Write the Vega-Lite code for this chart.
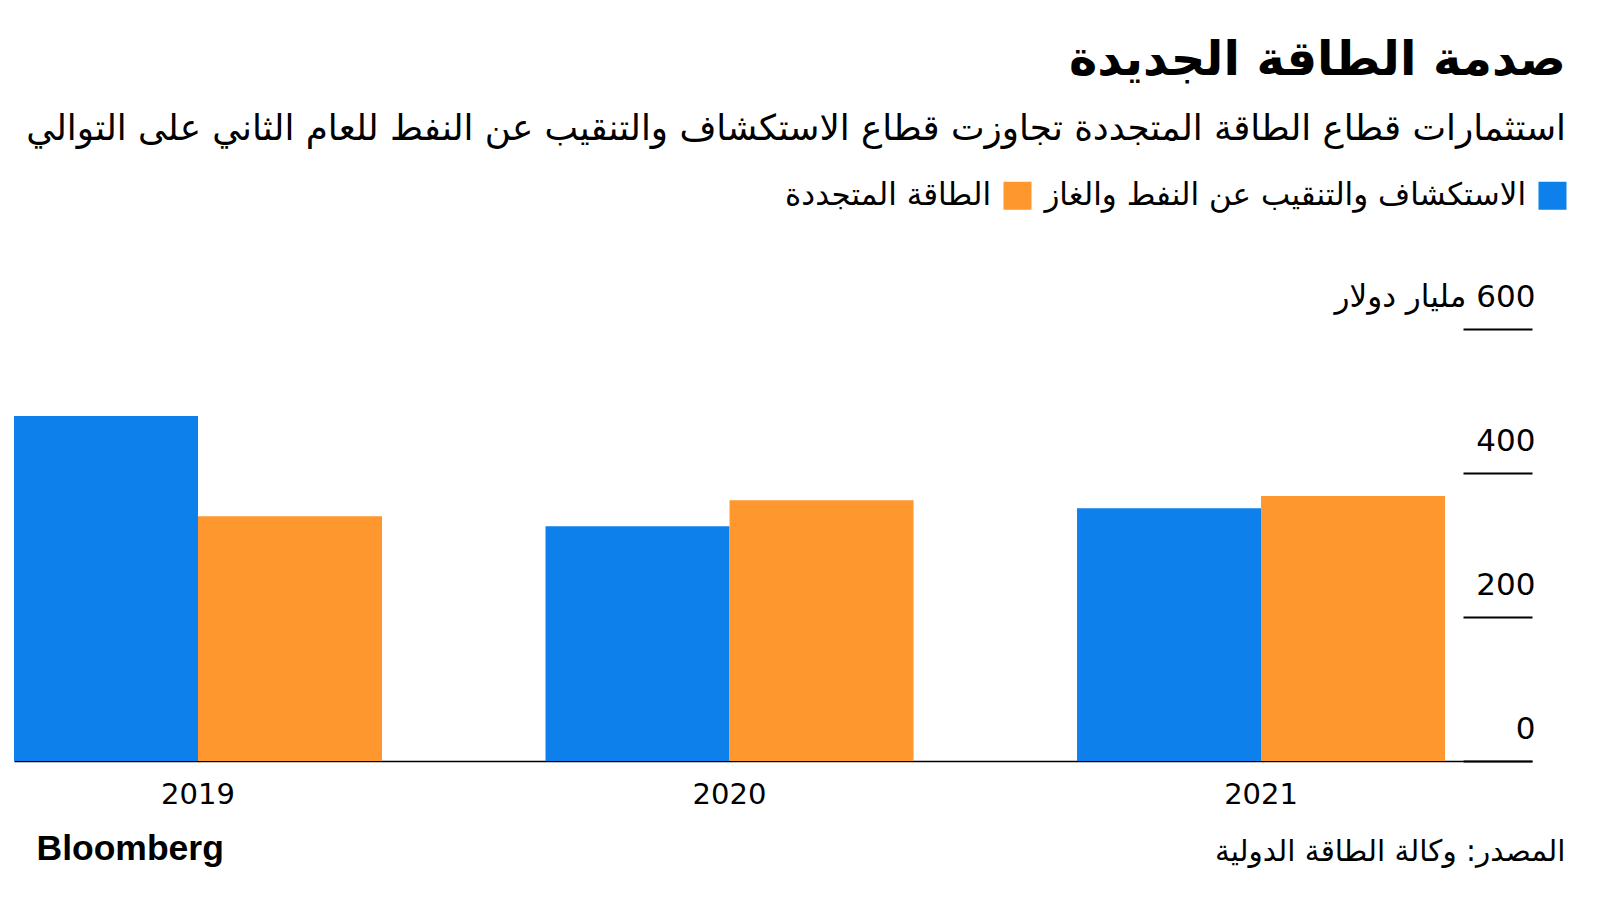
{
  "$schema": "https://vega.github.io/schema/vega-lite/v6.json",
  "width": 1518,
  "height": 432,
  "autosize": {"type": "none"},
  "padding": {"left": 14, "top": 329, "right": 68, "bottom": 139},
  "background": "#ffffff",
  "title": {
    "text": "صدمة الطاقة الجديدة",
    "subtitle": "استثمارات قطاع الطاقة المتجددة تجاوزت قطاع الاستكشاف والتنقيب عن النفط للعام الثاني على التوالي",
    "anchor": "end",
    "frame": "group",
    "dx": 34,
    "offset": 33,
    "font": "DejaVu Sans",
    "fontSize": 48,
    "fontWeight": "bold",
    "color": "#000000",
    "subtitleFont": "DejaVu Sans",
    "subtitleFontSize": 35.7,
    "subtitleColor": "#000000",
    "subtitlePadding": 27
  },
  "data": {
    "values": [
      {"year": "2019", "sector": "الاستكشاف والتنقيب عن النفط والغاز", "value": 479},
      {"year": "2019", "sector": "الطاقة المتجددة", "value": 340},
      {"year": "2020", "sector": "الاستكشاف والتنقيب عن النفط والغاز", "value": 326},
      {"year": "2020", "sector": "الطاقة المتجددة", "value": 362},
      {"year": "2021", "sector": "الاستكشاف والتنقيب عن النفط والغاز", "value": 351},
      {"year": "2021", "sector": "الطاقة المتجددة", "value": 368}
    ]
  },
  "mark": {"type": "bar"},
  "encoding": {
    "x": {
      "field": "year",
      "type": "nominal",
      "scale": {"paddingInner": 0.3076, "paddingOuter": 0.0818, "align": 0},
      "axis": {
        "title": "المصدر: وكالة الطاقة الدولية",
        "titleFont": "DejaVu Sans",
        "titleFontSize": 29.5,
        "titleFontWeight": "normal",
        "titleColor": "#000000",
        "titleAnchor": "end",
        "titleAlign": "right",
        "titleBaseline": "alphabetic",
        "titleX": 1551,
        "titleY": 99,
        "labelAngle": 0,
        "labelFont": "DejaVu Sans",
        "labelFontSize": 29,
        "labelColor": "#000000",
        "labelPadding": 19,
        "labelBaseline": "top",
        "ticks": false,
        "domain": true,
        "domainColor": "#000000",
        "domainWidth": 1.5,
        "grid": false
      }
    },
    "xOffset": {
      "field": "sector",
      "type": "nominal",
      "sort": ["الاستكشاف والتنقيب عن النفط والغاز", "الطاقة المتجددة"],
      "scale": {"paddingInner": 0, "paddingOuter": 0}
    },
    "y": {
      "field": "value",
      "type": "quantitative",
      "scale": {"domain": [0, 600], "nice": false},
      "axis": {
        "orient": "right",
        "values": [0, 200, 400, 600],
        "labelExpr": "datum.value == 600 ? '\u200f600 مليار دولار' : datum.label",
        "labelLimit": 0,
        "title": "Bloomberg",
        "titleFont": "Liberation Sans",
        "titleFontSize": 35.5,
        "titleFontWeight": "bold",
        "titleColor": "#000000",
        "titleAngle": 0,
        "titleAlign": "left",
        "titleBaseline": "alphabetic",
        "titleX": -1496,
        "titleY": 530,
        "domain": false,
        "grid": false,
        "ticks": true,
        "tickSize": -69,
        "tickColor": "#000000",
        "tickWidth": 2,
        "labelPadding": 72,
        "labelAlign": "right",
        "labelBaseline": "alphabetic",
        "labelOffset": -23,
        "labelFont": "DejaVu Sans",
        "labelFontSize": 31,
        "labelColor": "#000000"
      }
    },
    "color": {
      "field": "sector",
      "type": "nominal",
      "scale": {
        "domain": ["الطاقة المتجددة", "الاستكشاف والتنقيب عن النفط والغاز"],
        "range": ["#ff972f", "#0d80ec"]
      },
      "legend": {
        "orient": "none",
        "legendX": 988,
        "legendY": -149,
        "direction": "horizontal",
        "title": null,
        "symbolType": "square",
        "symbolSize": 784,
        "symbolStrokeWidth": 0,
        "symbolOpacity": 1,
        "labelAlign": "right",
        "labelOffset": -42,
        "labelFont": "DejaVu Sans",
        "labelFontSize": 31,
        "labelColor": "#000000",
        "labelLimit": 0,
        "columnPadding": 12
      }
    }
  },
  "config": {
    "view": {"stroke": null}
  }
}
